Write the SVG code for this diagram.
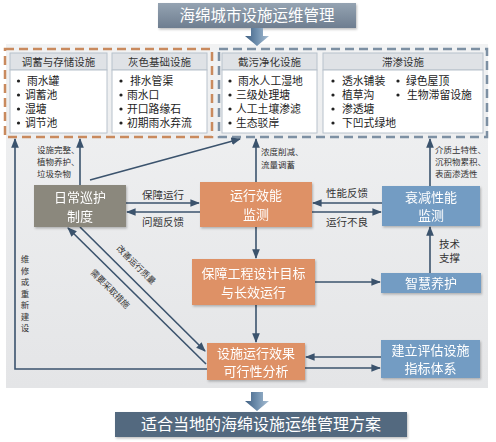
<svg xmlns="http://www.w3.org/2000/svg" width="496" height="442" viewBox="0 0 496 442">
<defs>
<linearGradient id="gTitle" x1="0" y1="0" x2="0" y2="1"><stop offset="0" stop-color="#95a3b2"/><stop offset="1" stop-color="#6e7e90"/></linearGradient>
<linearGradient id="gArrow" x1="0" y1="0" x2="1" y2="0"><stop offset="0" stop-color="#3f5f82"/><stop offset="0.5" stop-color="#6f8fae"/><stop offset="1" stop-color="#a9bfd3"/></linearGradient>
<linearGradient id="gBg" x1="0" y1="0" x2="0" y2="1"><stop offset="0" stop-color="#f1f2f3"/><stop offset="1" stop-color="#e4e5e7"/></linearGradient>
<marker id="ah" viewBox="0 0 10 10" refX="9" refY="5" markerWidth="6" markerHeight="6" orient="auto-start-reverse"><path d="M0,1 L10,5 L0,9 z" fill="#3b536d"/></marker>
<filter id="sh" x="-10%" y="-10%" width="130%" height="140%"><feDropShadow dx="1" dy="1.5" stdDeviation="1.2" flood-color="#000" flood-opacity="0.25"/></filter>
</defs>
<style>
text{font-family:"Noto Sans CJK SC","Noto Sans",sans-serif;}
.hd{fill:#dfe2e6;stroke:#b8c2cc;stroke-width:1}
.bd{fill:#ffffff;stroke:#b8c2cc;stroke-width:1}
.ht{font-size:10.5px;fill:#333;text-anchor:middle}
.it{font-size:10.8px;fill:#222}
.dot{fill:#222}
.nt{font-size:13px;fill:#fff;text-anchor:middle}
.lb{font-size:10.5px;fill:#333}
.sm{font-size:8.5px;fill:#333}
.cn{stroke:#3b536d;stroke-width:1.6;fill:none;marker-end:url(#ah)}
.or{fill:#de9166}
.bl{fill:#739cc3}
</style>
<rect x="0" y="0" width="496" height="442" fill="#ffffff"/>
<rect x="6" y="44" width="482" height="344" fill="url(#gBg)"/>

<g id="title">
<rect x="158" y="3" width="198" height="25" fill="url(#gTitle)" filter="url(#sh)"/>
<text x="257" y="21" font-size="15.5" fill="#fff" text-anchor="middle">海绵城市设施运维管理</text>
<path d="M251,28 H263 V36 H269 L257,46 L245,36 H251 Z" fill="url(#gArrow)"/>
</g>

<g id="grp-orange">
<rect x="5" y="49" width="207" height="88" fill="none" stroke="#c98a5e" stroke-width="2.5" stroke-dasharray="9 5"/>
</g>
<g id="grp-blue">
<rect x="219" y="49" width="268" height="88" fill="none" stroke="#7d90a3" stroke-width="2.5" stroke-dasharray="9 5"/>
</g>

<g id="panel1">
<rect class="hd" x="10" y="53" width="97" height="17"/>
<rect class="bd" x="10" y="70" width="97" height="63"/>
<text class="ht" x="58.5" y="66">调蓄与存储设施</text>
<circle class="dot" cx="18.5" cy="81" r="1.6"/><circle class="dot" cx="18.5" cy="95" r="1.6"/><circle class="dot" cx="18.5" cy="109" r="1.6"/><circle class="dot" cx="18.5" cy="123" r="1.6"/>
<text class="it" x="27" y="85">雨水罐</text>
<text class="it" x="25" y="99">调蓄池</text>
<text class="it" x="25" y="113">湿塘</text>
<text class="it" x="25" y="127">调节池</text>
</g>
<g id="panel2">
<rect class="hd" x="112" y="53" width="95" height="17"/>
<rect class="bd" x="112" y="70" width="95" height="63"/>
<text class="ht" x="159.5" y="66">灰色基础设施</text>
<circle class="dot" cx="121" cy="81" r="1.6"/><circle class="dot" cx="121" cy="95" r="1.6"/><circle class="dot" cx="121" cy="109" r="1.6"/><circle class="dot" cx="121" cy="123" r="1.6"/>
<text class="it" x="130" y="85">排水管渠</text>
<text class="it" x="127" y="99">雨水口</text>
<text class="it" x="127" y="113">开口路缘石</text>
<text class="it" x="127" y="127">初期雨水弃流</text>
</g>
<g id="panel3">
<rect class="hd" x="222" y="53" width="95" height="17"/>
<rect class="bd" x="222" y="70" width="95" height="63"/>
<text class="ht" x="269.5" y="66">截污净化设施</text>
<circle class="dot" cx="230" cy="81" r="1.6"/><circle class="dot" cx="230" cy="95" r="1.6"/><circle class="dot" cx="230" cy="109" r="1.6"/><circle class="dot" cx="230" cy="123" r="1.6"/>
<text class="it" x="238" y="85">雨水人工湿地</text>
<text class="it" x="236" y="99">三级处理塘</text>
<text class="it" x="236" y="113">人工土壤渗滤</text>
<text class="it" x="236" y="127">生态驳岸</text>
</g>
<g id="panel4">
<rect class="hd" x="323" y="53" width="160" height="17"/>
<rect class="bd" x="323" y="70" width="160" height="63"/>
<text class="ht" x="403" y="66">滞渗设施</text>
<circle class="dot" cx="333" cy="81" r="1.6"/><circle class="dot" cx="333" cy="95" r="1.6"/><circle class="dot" cx="333" cy="109" r="1.6"/><circle class="dot" cx="333" cy="123" r="1.6"/>
<circle class="dot" cx="398" cy="81" r="1.6"/><circle class="dot" cx="398" cy="95" r="1.6"/>
<text class="it" x="342" y="85">透水铺装</text>
<text class="it" x="342" y="99">植草沟</text>
<text class="it" x="342" y="113">渗透塘</text>
<text class="it" x="342" y="127">下凹式绿地</text>
<text class="it" x="406" y="85">绿色屋顶</text>
<text class="it" x="407" y="99">生物滞留设施</text>
</g>

<g id="connectors">
<polyline class="cn" points="207,369 15,369 15,139"/>
<line class="cn" x1="80" y1="185" x2="80" y2="139"/>
<line class="cn" x1="90" y1="180" x2="240" y2="139"/>
<line class="cn" x1="256" y1="182" x2="256" y2="139"/>
<line class="cn" x1="430" y1="186" x2="430" y2="139"/>
<line class="cn" x1="126" y1="203" x2="199" y2="203"/>
<line class="cn" x1="200" y1="212" x2="127" y2="212"/>
<line class="cn" x1="382" y1="203" x2="313" y2="203"/>
<line class="cn" x1="312" y1="212" x2="381" y2="212"/>
<line class="cn" x1="256" y1="227" x2="256" y2="258"/>
<line class="cn" x1="315" y1="282" x2="380" y2="282"/>
<line class="cn" x1="430" y1="273" x2="430" y2="227"/>
<line class="cn" x1="256" y1="305" x2="256" y2="342"/>
<line class="cn" x1="381" y1="357" x2="306" y2="357"/>
<line class="cn" x1="305" y1="368" x2="380" y2="368"/>
<line class="cn" x1="80" y1="227" x2="205" y2="351"/>
<line class="cn" x1="206" y1="364" x2="68" y2="228"/>
</g>

<g id="labels">
<text class="sm" x="37" y="153">设施完整、</text>
<text class="sm" x="37" y="165">植物养护、</text>
<text class="sm" x="37" y="177">垃圾杂物</text>
<text class="sm" x="261" y="155">浓度削减、</text>
<text class="sm" x="261" y="168">流量调蓄</text>
<text class="sm" x="435" y="153">介质土特性、</text>
<text class="sm" x="435" y="165">沉积物累积、</text>
<text class="sm" x="435" y="177">表面渗透性</text>
<text class="lb" x="163" y="199" text-anchor="middle">保障运行</text>
<text class="lb" x="163" y="226" text-anchor="middle">问题反馈</text>
<text class="lb" x="347" y="197" text-anchor="middle">性能反馈</text>
<text class="lb" x="347" y="226" text-anchor="middle">运行不良</text>
<text class="lb" x="439" y="248">技术</text>
<text class="lb" x="439" y="262">支撑</text>
<text class="sm" x="25" y="262" text-anchor="middle">维</text>
<text class="sm" x="25" y="273.5" text-anchor="middle">修</text>
<text class="sm" x="25" y="285" text-anchor="middle">或</text>
<text class="sm" x="25" y="296.5" text-anchor="middle">重</text>
<text class="sm" x="25" y="308" text-anchor="middle">新</text>
<text class="sm" x="25" y="319.5" text-anchor="middle">建</text>
<text class="sm" x="25" y="331" text-anchor="middle">设</text>
<text class="sm" text-anchor="middle" transform="translate(134,267) rotate(45)">改善运行质量</text>
<text class="sm" text-anchor="middle" transform="translate(108,291) rotate(45)">需要采取措施</text>
</g>

<g id="n-daily" filter="url(#sh)">
<rect x="34" y="185" width="92" height="42" fill="#8b887d"/>
<text class="nt" x="80" y="202">日常巡护</text>
<text class="nt" x="80" y="221">制度</text>
</g>
<g id="n-perf" filter="url(#sh)">
<rect class="or" x="200" y="182" width="112" height="45"/>
<text class="nt" x="256" y="200">运行效能</text>
<text class="nt" x="256" y="219">监测</text>
</g>
<g id="n-decay" filter="url(#sh)">
<rect class="bl" x="382" y="186" width="98" height="40"/>
<text class="nt" x="431" y="202">衰减性能</text>
<text class="nt" x="431" y="220">监测</text>
</g>
<g id="n-goal" filter="url(#sh)">
<rect class="or" x="192" y="259" width="123" height="46"/>
<text class="nt" x="253.5" y="278">保障工程设计目标</text>
<text class="nt" x="253.5" y="297">与长效运行</text>
</g>
<g id="n-smart" filter="url(#sh)">
<rect class="bl" x="381" y="273" width="100" height="20"/>
<text class="nt" x="431" y="288">智慧养护</text>
</g>
<g id="n-analysis" filter="url(#sh)">
<rect class="or" x="207" y="343" width="98" height="37"/>
<text class="nt" x="256" y="358">设施运行效果</text>
<text class="nt" x="256" y="376">可行性分析</text>
</g>
<g id="n-index" filter="url(#sh)">
<rect class="bl" x="381" y="340" width="99" height="38"/>
<text class="nt" x="430.5" y="355">建立评估设施</text>
<text class="nt" x="430.5" y="373">指标体系</text>
</g>

<g id="bottom">
<path d="M251,392 H263 V401 H269 L257,411 L245,401 H251 Z" fill="url(#gArrow)"/>
<rect x="115" y="412" width="292" height="25" fill="#52697f" filter="url(#sh)"/>
<text x="261" y="430" font-size="16" fill="#fff" text-anchor="middle">适合当地的海绵设施运维管理方案</text>
</g>
</svg>
